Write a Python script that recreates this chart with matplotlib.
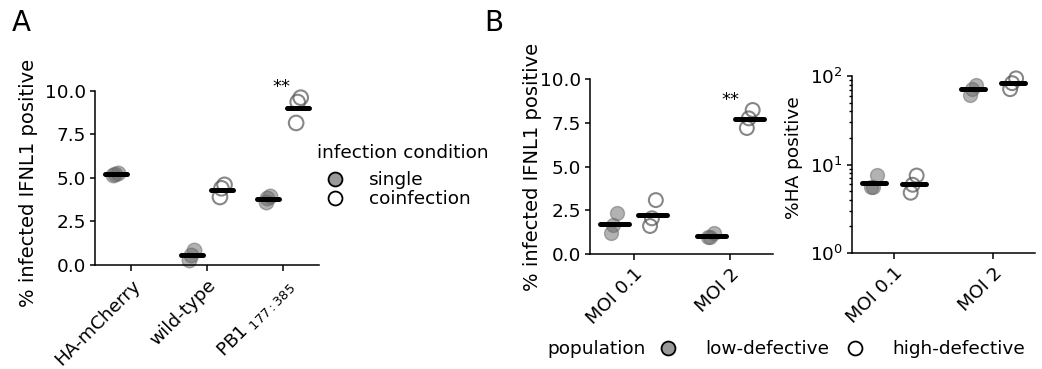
import numpy as np
import matplotlib
matplotlib.use("AGG")
import matplotlib.pyplot as plt
from matplotlib.lines import Line2D
from matplotlib.ticker import FormatStrFormatter, LogLocator, NullFormatter

plt.rcParams['font.family'] = 'DejaVu Sans'
plt.rcParams['font.size'] = 13.3
plt.rcParams['mathtext.default'] = 'regular'

# panel A: % infected IFNL1 positive, three replicates per group
a_groups = ["HA-mCherry", "wild-type", r"PB1$\;_{177:385}$"]
a_single = [[5.25, 5.2, 5.15], [0.85, 0.6, 0.3], [3.95, 3.85, 3.6]]
a_coinf = [[], [4.6, 4.4, 3.9], [9.6, 9.35, 8.15]]

# panel B
b_groups = ["MOI 0.1", "MOI 2"]
ifnl1_low = [[2.33, 1.66, 1.2], [1.2, 1.0, 0.95]]
ifnl1_high = [[3.08, 2.04, 1.6], [8.23, 7.75, 7.2]]
ha_low = [[7.6, 5.6, 5.5], [79, 72, 61]]
ha_high = [[7.5, 5.9, 4.8], [94, 83, 71]]

jit = np.array([0.03, -0.01, -0.03])
fill_col = '#666666'
open_col = '#555555'


def strip(ax, x, vals, filled, half, ms):
    if len(vals) == 0:
        return
    xs = x + jit[:len(vals)]
    if filled:
        ax.scatter(xs, vals, s=ms**2, facecolor=fill_col, edgecolor=fill_col,
                   alpha=0.5, lw=1.0, clip_on=False, zorder=2)
    else:
        ax.scatter(xs, vals, s=ms**2, facecolor='none', edgecolor=open_col,
                   alpha=0.7, lw=1.5, clip_on=False, zorder=2)
    m = np.mean(vals)
    ax.plot([x - half, x + half], [m, m], color='black', lw=3.6,
            solid_capstyle='round', zorder=3, clip_on=False)


def style(ax):
    for s in ['top', 'right']:
        ax.spines[s].set_visible(False)
    for s in ['left', 'bottom']:
        ax.spines[s].set_linewidth(1.1)
    ax.tick_params(direction='out', length=3.5, width=1.1, pad=3)
    ax.tick_params(axis='x', length=4, pad=4)


fig = plt.figure(figsize=(10.42, 3.69), dpi=100)
W, H = 1042.0, 369.0


def add_axes(l, r, t, b):
    return fig.add_axes([l / W, 1 - b / H, (r - l) / W, (b - t) / H])


# ---- panel A
ax_a = add_axes(95, 319, 90.7, 265)
for i in range(len(a_groups)):
    strip(ax_a, i - 0.2, a_single[i], True, 0.145, 10.5)
    strip(ax_a, i + 0.2, a_coinf[i], False, 0.145, 10.5)
ax_a.set_xlim(-0.47, 2.47)
ax_a.set_ylim(0, 10)
ax_a.set_yticks([0, 2.5, 5, 7.5, 10])
ax_a.yaxis.set_major_formatter(FormatStrFormatter('%.1f'))
ax_a.set_xticks(range(len(a_groups)))
ax_a.set_xticklabels(a_groups, rotation=45, ha='right', va='top',
                     rotation_mode='anchor')
ax_a.set_ylabel('% infected IFNL1 positive', fontsize=14)
ax_a.yaxis.set_label_coords(-0.255, 0.47)
style(ax_a)
ax_a.text(1.98, 9.9, '**', ha='center', va='baseline', fontsize=13)

fig.text(317 / W, 1 - 153 / H, 'infection condition', ha='left', va='center')
h_single = Line2D([], [], ls='', marker='o', ms=10, mfc='#999999', mec='black', mew=1.3)
h_coinf = Line2D([], [], ls='', marker='o', ms=10, mfc='white', mec='black', mew=1.3)
fig.legend([h_single, h_coinf], ['single', 'coinfection'], loc='upper left',
           bbox_to_anchor=(317 / W, 1 - 171 / H), frameon=False, borderpad=0,
           borderaxespad=0, handlelength=2.0, handletextpad=0.8,
           labelspacing=0.07)

# ---- panel B left
ax_b1 = add_axes(590, 773, 79, 254)
for i in range(len(b_groups)):
    strip(ax_b1, i - 0.2, ifnl1_low[i], True, 0.15, 10)
    strip(ax_b1, i + 0.2, ifnl1_high[i], False, 0.15, 10)
ax_b1.set_xlim(-0.45, 1.44)
ax_b1.set_ylim(0, 10)
ax_b1.set_yticks([0, 2.5, 5, 7.5, 10])
ax_b1.yaxis.set_major_formatter(FormatStrFormatter('%.1f'))
ax_b1.set_xticks(range(len(b_groups)))
ax_b1.set_xticklabels(b_groups, rotation=45, ha='right', va='top',
                      rotation_mode='anchor')
ax_b1.set_ylabel('% infected IFNL1 positive', fontsize=14)
ax_b1.yaxis.set_label_coords(-0.265, 0.5)
style(ax_b1)
ax_b1.text(1, 8.5, '**', ha='center', va='baseline', fontsize=13)

# ---- panel B right (log)
ax_b2 = add_axes(852, 1035, 76, 253)
for i in range(len(b_groups)):
    strip(ax_b2, i - 0.2, ha_low[i], True, 0.12, 10)
    strip(ax_b2, i + 0.2, ha_high[i], False, 0.12, 10)
ax_b2.set_yscale('log')
ax_b2.set_xlim(-0.42, 1.42)
ax_b2.set_ylim(1, 100)
ax_b2.yaxis.set_major_locator(LogLocator(base=10, numticks=5))
ax_b2.yaxis.set_minor_locator(LogLocator(base=10, subs=np.arange(2, 10), numticks=20))
ax_b2.yaxis.set_minor_formatter(NullFormatter())
ax_b2.set_xticks(range(len(b_groups)))
ax_b2.set_xticklabels(b_groups, rotation=45, ha='right', va='top',
                      rotation_mode='anchor')
ax_b2.set_ylabel('%HA positive')
ax_b2.yaxis.set_label_coords(-0.27, 0.54)
style(ax_b2)
ax_b2.tick_params(axis='y', which='minor', length=2.2, width=1.0)

fig.text(547 / W, 1 - 349 / H, 'population', ha='left', va='center')
h_low = Line2D([], [], ls='', marker='o', ms=10, mfc='#999999', mec='black', mew=1.3)
h_high = Line2D([], [], ls='', marker='o', ms=10, mfc='white', mec='black', mew=1.3)
fig.legend([h_low, h_high], ['low-defective', 'high-defective'], loc='center left',
           bbox_to_anchor=(659 / W, 1 - 349 / H), frameon=False, borderpad=0,
           borderaxespad=0, ncol=2, handlelength=1.0, handletextpad=1.5,
           columnspacing=0.9)

fig.text(12 / W, 1 - 23 / H, 'A', fontsize=20, ha='left', va='center')
fig.text(484 / W, 1 - 23 / H, 'B', fontsize=20, ha='left', va='center')

fig.savefig('out.png', dpi=100)
